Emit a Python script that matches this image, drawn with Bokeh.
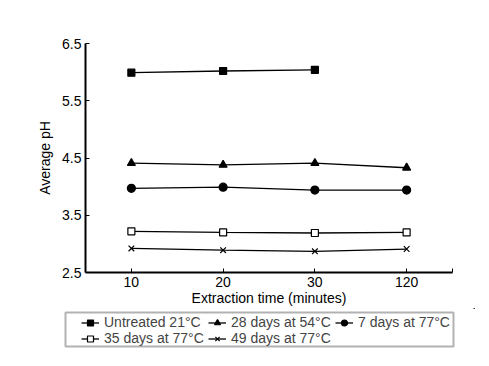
from bokeh.plotting import figure
from bokeh.models import Legend, LegendItem, FixedTicker, Range1d, BoxAnnotation
from bokeh.layouts import column
from bokeh.embed import file_html
from bokeh.resources import INLINE

times = ["10", "20", "30", "120"]
untreated_21 = [5.99, 6.02, 6.04]
d28_54 = [4.41, 4.38, 4.41, 4.33]
d7_77 = [3.97, 3.99, 3.94, 3.94]
d35_77 = [3.22, 3.20, 3.19, 3.20]
d49_77 = [2.92, 2.89, 2.87, 2.91]
y_ticks = [2.5, 3.5, 4.5, 5.5, 6.5]

FONT = "Liberation Sans"
W = 475
LH = 50

p = figure(width=W, height=308, output_backend="svg", toolbar_location=None,
           x_range=Range1d(0.5, 4.5), y_range=Range1d(2.5, 6.5),
           min_border_left=85, min_border_right=23, min_border_top=43, min_border_bottom=36)
p.outline_line_color = None
p.grid.visible = False

# legend figure (frame = whole canvas, ranges in pixels, placed at negative
# values so the real data used by the dummy renderers stays out of view)
lg = figure(width=W, height=LH, output_backend="svg", toolbar_location=None,
            x_range=Range1d(-W, 0), y_range=Range1d(-LH, 0),
            x_axis_location=None, y_axis_location=None, min_border=0)
lg.grid.visible = False
lg.outline_line_color = None

xs = [1, 2, 3, 4]
series = [
    ("Untreated 21°C", untreated_21, "square", "black", 7),
    ("28 days at 54°C", d28_54, "triangle", "black", 8),
    ("7 days at 77°C", d7_77, "circle", "black", 8),
    ("35 days at 77°C", d35_77, "square", "white", 7),
    ("49 days at 77°C", d49_77, "x", "black", 8),
]
items = {}
for name, vals, marker, fill, size in series:
    x = xs[:len(vals)]
    p.line(x, vals, line_color="black", line_width=1.3)
    p.scatter(x, vals, marker=marker, size=size, fill_color=fill,
              line_color="black", line_width=1.2)
    l1 = lg.line(x, vals, line_color="black", line_width=1.3)
    l2 = lg.scatter(x, vals, marker=marker, size=size - 1, fill_color=fill,
                    line_color="black", line_width=1.2)
    items[name] = LegendItem(label=name, renderers=[l1, l2])

# column-major order so the grid reads row by row
order = ["Untreated 21°C", "35 days at 77°C", "28 days at 54°C",
         "49 days at 77°C", "7 days at 77°C"]

p.xaxis.ticker = FixedTicker(ticks=[1, 2, 3, 4, 4.5])
p.xaxis.major_label_overrides = {1: times[0], 2: times[1], 3: times[2], 4: times[3], 4.5: ""}
p.yaxis.ticker = FixedTicker(ticks=y_ticks)
for ax in (p.xaxis, p.yaxis):
    ax.axis_line_width = 2
    ax.axis_line_color = "black"
    ax.major_tick_in = 4
    ax.major_tick_out = 0
    ax.minor_tick_line_color = None
    ax.major_tick_line_color = "black"
    ax.major_label_text_font = FONT
    ax.major_label_text_font_size = "14px"
    ax.major_label_text_color = "black"
    ax.axis_label_text_font = FONT
    ax.axis_label_text_font_size = "14px"
    ax.axis_label_text_font_style = "normal"
    ax.axis_label_text_color = "black"
p.xaxis.axis_label = "Extraction time (minutes)"
p.yaxis.axis_label = "Average pH"
p.xaxis.axis_label_standoff = 0
p.xaxis.major_label_standoff = 4
p.yaxis.major_label_standoff = 4
p.yaxis.axis_label_standoff = 6

legend = Legend(items=[items[n] for n in order], ncols=3, location=(81, 12),
                border_line_color=None, background_fill_alpha=0,
                label_text_font=FONT, label_text_font_size="14px",
                label_height=15, glyph_height=15, glyph_width=18, label_width=104,
                spacing=0, padding=4, margin=0, label_standoff=5)
lg.add_layout(legend, "center")
lg.add_layout(BoxAnnotation(left=65 - W, right=453 - W, bottom=12 - LH, top=46 - LH,
                            fill_alpha=0, line_color="black", line_width=2))

layout = column(p, column(lg, spacing=0), spacing=0)
open("out.html", "w").write(file_html(layout, INLINE))
